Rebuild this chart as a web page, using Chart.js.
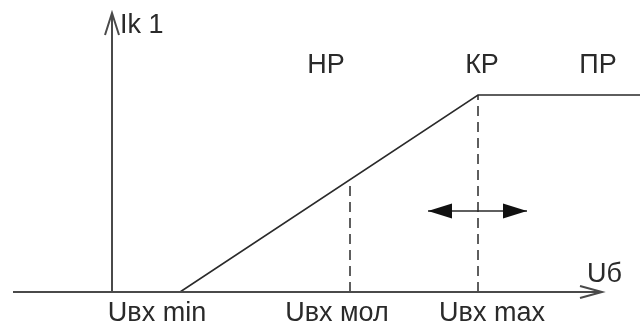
<!DOCTYPE html>
<html>
<head>
<meta charset="utf-8">
<script src="https://cdn.jsdelivr.net/npm/chart.js@4.4.1/dist/chart.umd.min.js"></script>
<style>
  html, body { margin: 0; padding: 0; background: #fff; }
  #wrap { width: 640px; height: 327px; }
</style>
</head>
<body>
<div id="wrap"><canvas id="chart" width="640" height="327"></canvas></div>
<script>
// transfer characteristic Ik1(Uб): cut-off, active (НР), saturation
const curveX = [68, 366, 528];
const curveY = [0, 197, 197];

// dashed drops from the curve to the Uб axis
const dropX = [238, 366];
const dropTop = [112, 197];

// axes
const axisX = [-99, 490];
const axisYTop = 279;

// working point shift arrow
const shiftX = [316, 415];
const shiftY = 81;

// captions under the Uб axis
const tickNames = ['Uвх min', 'Uвх мол', 'Uвх max'];
const tickPos = [45, 225, 380];

// region names above the curve
const regionNames = ['НР', 'КР', 'ПР'];
const regionPos = [214, 370, 486];
const regionY = 219;

const ink = '#2a2a2a';
const axisInk = '#4a4a4a';
const font = '27px "Liberation Sans", Arial, sans-serif';

const datasets = [
    {
        data: [{ x: axisX[0], y: 0 }, { x: axisX[1], y: 0 }],
        borderColor: axisInk, borderWidth: 2
    },
    {
        data: [{ x: 0, y: 0 }, { x: 0, y: axisYTop }],
        borderColor: axisInk, borderWidth: 2
    },
    {
        data: curveX.map((x, i) => ({ x: x, y: curveY[i] })),
        borderColor: ink, borderWidth: 1.5
    },
    {
        data: [{ x: shiftX[0], y: shiftY }, { x: shiftX[1], y: shiftY }],
        borderColor: ink, borderWidth: 1.5
    }
];

dropX.forEach((x, i) => {
    datasets.push({
        data: [{ x: x, y: 0 }, { x: x, y: dropTop[i] }],
        borderColor: ink, borderWidth: 1.5, borderDash: [10, 6]
    });
});

// arrowheads and text, placed through the chart scales
const decor = {
    id: 'decor',
    afterDatasetsDraw(chart) {
        const c = chart.ctx;
        const sx = chart.scales.x, sy = chart.scales.y;
        const px = v => sx.getPixelForValue(v);
        const py = v => sy.getPixelForValue(v);

        c.save();

        // open chevrons at the ends of the axes
        c.strokeStyle = axisInk;
        c.lineWidth = 2;
        c.beginPath();
        let tx = px(axisX[1]), ty = py(0);
        c.moveTo(tx - 22, ty - 6); c.lineTo(tx, ty); c.lineTo(tx - 22, ty + 6);
        tx = px(0); ty = py(axisYTop);
        c.moveTo(tx - 7, ty + 22); c.lineTo(tx, ty); c.lineTo(tx + 7, ty + 22);
        c.stroke();

        // filled heads of the shift arrow
        c.fillStyle = '#111';
        const ay = py(shiftY);
        const l = px(shiftX[0]), r = px(shiftX[1]);
        c.beginPath();
        c.moveTo(l, ay); c.lineTo(l + 24, ay - 7.5); c.lineTo(l + 24, ay + 7.5); c.closePath();
        c.moveTo(r, ay); c.lineTo(r - 24, ay - 7.5); c.lineTo(r - 24, ay + 7.5); c.closePath();
        c.fill();

        // labels
        c.fillStyle = ink;
        c.font = font;
        c.textBaseline = 'alphabetic';
        c.textAlign = 'center';
        tickNames.forEach((t, i) => c.fillText(t, px(tickPos[i]), py(-29)));
        regionNames.forEach((t, i) => c.fillText(t, px(regionPos[i]), py(regionY)));
        c.textAlign = 'left';
        c.fillText('Ik 1', px(8), py(259));
        c.fillText('Uб', px(475), py(10));

        c.restore();
    }
};

new Chart(document.getElementById('chart'), {
    type: 'scatter',
    data: { datasets: datasets },
    options: {
        responsive: false,
        animation: false,
        showLine: true,
        layout: { padding: 0 },
        elements: { point: { radius: 0 }, line: { tension: 0 } },
        plugins: { legend: { display: false }, tooltip: { enabled: false } },
        scales: {
            x: { type: 'linear', display: false, min: -112, max: 528 },
            y: { type: 'linear', display: false, min: -35, max: 292 }
        }
    },
    plugins: [decor]
});
</script>
</body>
</html>
